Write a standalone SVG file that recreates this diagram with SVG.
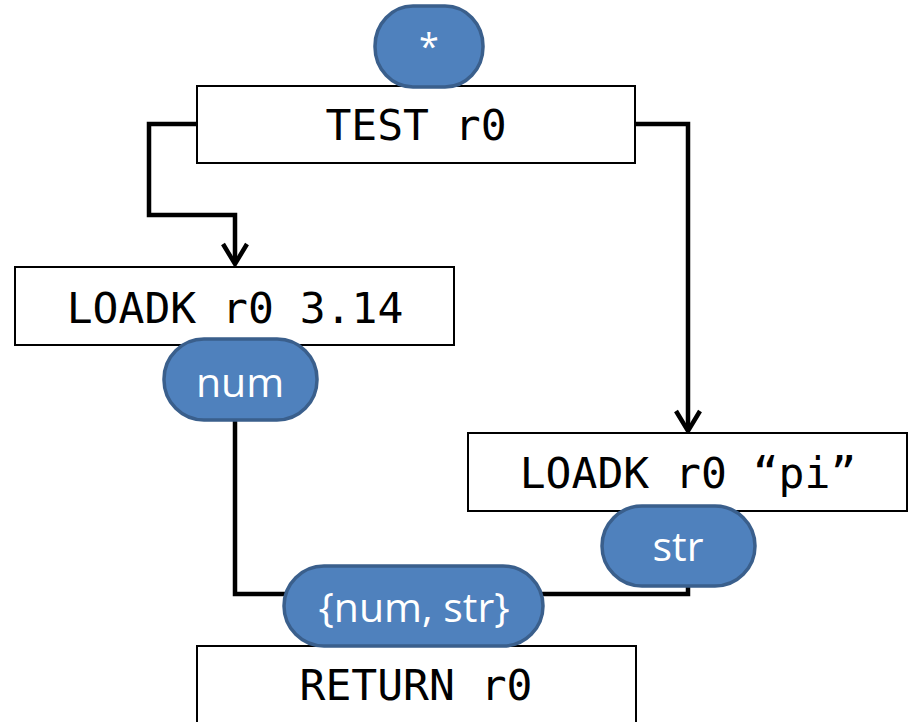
<svg xmlns="http://www.w3.org/2000/svg" width="913" height="722" viewBox="0 0 913 722">
<style>
.box{fill:#fff;stroke:#000;stroke-width:2}
.pill{fill:#4F81BD;stroke:#3A5F8C;stroke-width:3.5}
.code{font-family:"DejaVu Sans Mono","Liberation Mono",monospace;font-size:43px;fill:#000;text-anchor:middle}
.lbl{font-family:"Open Sans","Liberation Sans",sans-serif;font-size:41px;fill:#fff;text-anchor:middle}
.wire{fill:none;stroke:#000;stroke-width:4.5;stroke-linejoin:miter}
</style>
<rect width="913" height="722" fill="#fff"/>
<g id="connectors">
<polyline class="wire" points="197,124 149,124 149,215 235,215 235,263"/>
<polyline class="wire" points="223,244 235,264 247,244"/>
<polyline class="wire" points="635,124 688,124 688,430"/>
<polyline class="wire" points="676,411 688,431 700,411"/>
<polyline class="wire" points="235,420 235,594 300,594"/>
<polyline class="wire" points="688,586 688,594 530,594"/>
</g>
<g id="test">
<rect class="box" x="197" y="86" width="438" height="77"/>
<text class="code" x="416" y="140">TEST r0</text>
</g>
<g id="entry">
<rect class="pill" x="375" y="6" width="108" height="81" rx="38" ry="40"/>
<text class="lbl" x="429" y="59" style="font-size:36px">*</text>
</g>
<g id="loadk-num">
<rect class="box" x="15" y="267" width="439" height="78"/>
<text class="code" x="235" y="323">LOADK r0 3.14</text>
</g>
<g id="num">
<rect class="pill" x="164" y="339" width="153" height="81" rx="40" ry="40"/>
<text class="lbl" x="240" y="397">num</text>
</g>
<g id="loadk-str">
<rect class="box" x="468" y="433" width="439" height="78"/>
<text class="code" x="688" y="488">LOADK r0 “pi”</text>
</g>
<g id="str">
<rect class="pill" x="602" y="506" width="153" height="80" rx="40" ry="40"/>
<text class="lbl" x="678" y="561">str</text>
</g>
<g id="return">
<rect class="box" x="197" y="646" width="439" height="80"/>
<text class="code" x="416" y="700">RETURN r0</text>
</g>
<g id="union">
<rect class="pill" x="284" y="566" width="259" height="80" rx="40" ry="40"/>
<text class="lbl" x="414" y="622">{num, str}</text>
</g>
</svg>
